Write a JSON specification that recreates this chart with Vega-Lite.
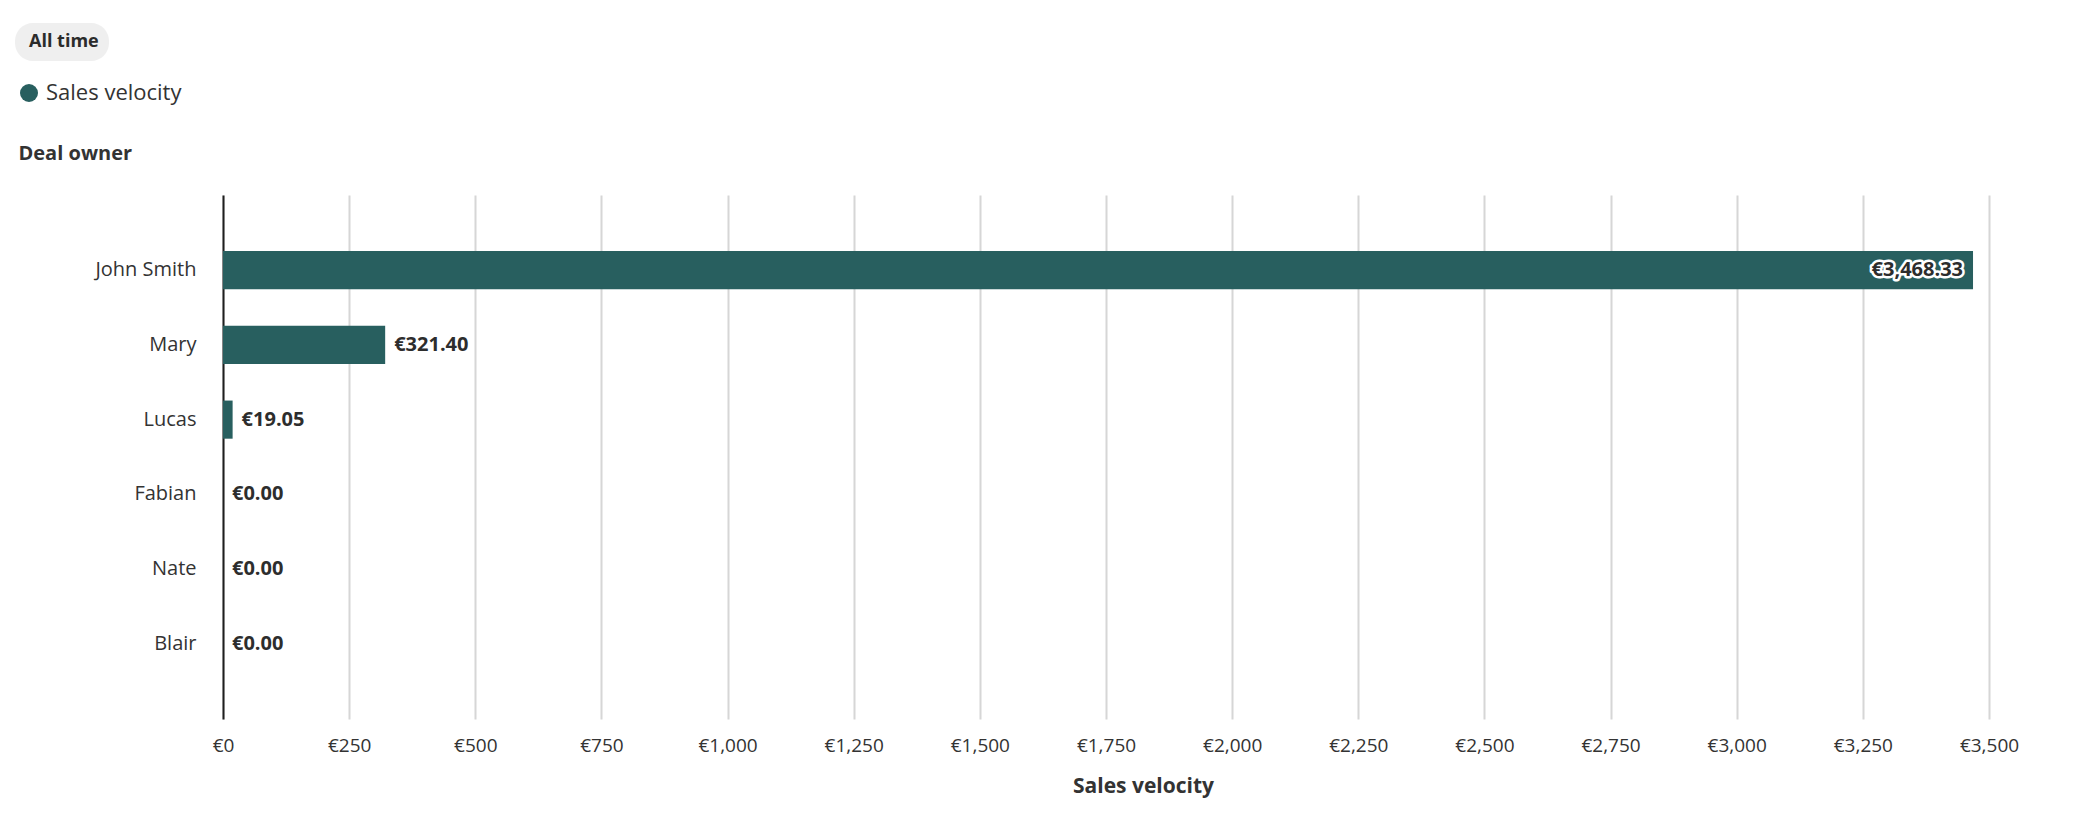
{
  "$schema": "https://vega.github.io/schema/vega-lite/v6.json",
  "description": "Sales velocity by deal owner",
  "width": 1766,
  "height": 524,
  "autosize": {"type": "none"},
  "padding": {"left": 223, "top": 195, "right": 107, "bottom": 95},
  "background": "white",
  "config": {
    "font": "Open Sans",
    "view": {"stroke": null},
    "locale": {
      "number": {"decimal": ".", "thousands": ",", "grouping": [3], "currency": ["€", ""]}
    }
  },
  "data": {
    "values": [
      {"owner": "John Smith", "velocity": 3468.33},
      {"owner": "Mary", "velocity": 321.4},
      {"owner": "Lucas", "velocity": 19.05},
      {"owner": "Fabian", "velocity": 0},
      {"owner": "Nate", "velocity": 0},
      {"owner": "Blair", "velocity": 0}
    ]
  },
  "encoding": {
    "y": {
      "field": "owner",
      "type": "nominal",
      "sort": null,
      "scale": {"paddingInner": 0.49, "paddingOuter": 0.75},
      "axis": {
        "title": "Deal owner",
        "titleAngle": 0,
        "titleAlign": "left",
        "titleBaseline": "middle",
        "titleX": -205,
        "titleY": -42,
        "titleFontSize": 20,
        "titleFontWeight": "bold",
        "titleColor": "#333333",
        "labelFontSize": 20,
        "labelColor": "#333333",
        "labelPadding": 27,
        "ticks": false,
        "domain": true,
        "domainColor": "#1f1f1f",
        "domainWidth": 2,
        "grid": false
      }
    },
    "x": {
      "field": "velocity",
      "type": "quantitative",
      "scale": {"domain": [0, 3500], "nice": false},
      "axis": {
        "title": "Sales velocity",
        "titleFontSize": 21,
        "titleFontWeight": "bold",
        "titleColor": "#333333",
        "titleX": 920,
        "titleY": 67,
        "titleBaseline": "middle",
        "values": [0, 250, 500, 750, 1000, 1250, 1500, 1750, 2000, 2250, 2500, 2750, 3000, 3250, 3500],
        "format": "$,.0f",
        "labelFontSize": 19,
        "labelColor": "#333333",
        "labelPadding": 17,
        "labelFlush": false,
        "labelOverlap": false,
        "ticks": false,
        "domain": false,
        "grid": true,
        "gridColor": "#d6d6d6",
        "gridWidth": 2
      }
    }
  },
  "layer": [
    {
      "mark": {"type": "bar", "strokeWidth": 0},
      "encoding": {
        "color": {
          "datum": "Sales velocity",
          "type": "nominal",
          "scale": {"range": ["#285f5f"]},
          "legend": {
            "title": null,
            "orient": "none",
            "legendX": -205,
            "legendY": -113,
            "symbolType": "circle",
            "symbolSize": 324,
            "symbolStrokeWidth": 0,
            "labelFontSize": 22,
            "labelColor": "#333333",
            "labelOffset": 6,
            "padding": 0
          }
        },
        "strokeDash": {
          "datum": "All time",
          "type": "nominal",
          "scale": {"range": [[1, 0]]},
          "legend": {
            "title": null,
            "orient": "none",
            "legendX": -208,
            "legendY": -172,
            "symbolSize": 0,
            "symbolStrokeWidth": 0,
            "symbolOpacity": 0,
            "labelOffset": -14,
            "labelFontSize": 18,
            "labelFontWeight": "bold",
            "labelColor": "#2b2b2b",
            "fillColor": "#efefef",
            "cornerRadius": 18,
            "padding": 10
          }
        }
      }
    },
    {
      "transform": [{"filter": "datum.velocity < 3000"}],
      "mark": {"type": "text", "align": "left", "baseline": "middle", "dx": 9, "fontSize": 20, "fontWeight": "bold", "fill": "#2d2d2d"},
      "encoding": {"text": {"field": "velocity", "type": "quantitative", "format": "$,.2f"}}
    },
    {
      "transform": [{"filter": "datum.velocity >= 3000"}],
      "mark": {"type": "text", "align": "right", "baseline": "middle", "dx": -10, "fontSize": 20, "fontWeight": "bold", "fill": "white", "stroke": "white", "strokeWidth": 5, "strokeJoin": "round"},
      "encoding": {"text": {"field": "velocity", "type": "quantitative", "format": "$,.2f"}}
    },
    {
      "transform": [{"filter": "datum.velocity >= 3000"}],
      "mark": {"type": "text", "align": "right", "baseline": "middle", "dx": -10, "fontSize": 20, "fontWeight": "bold", "fill": "#2d2d2d"},
      "encoding": {"text": {"field": "velocity", "type": "quantitative", "format": "$,.2f"}}
    }
  ]
}
